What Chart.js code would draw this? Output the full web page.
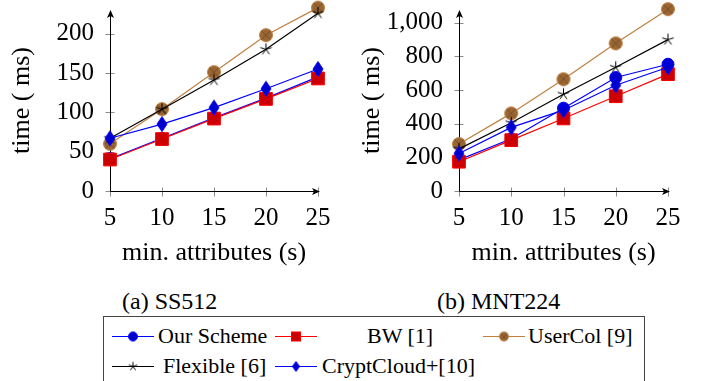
<!DOCTYPE html>
<html>
<head>
<meta charset="utf-8">
<script src="https://cdn.jsdelivr.net/npm/chart.js@4/dist/chart.umd.min.js"></script>
<style>
  body { margin: 0; width: 710px; height: 381px; overflow: hidden; background: #fff; position: relative; font-family: 'Liberation Serif', serif; color: #000; }
  .abs { position: absolute; }
  .cap { position: absolute; font-size: 24px; line-height: 24px; white-space: nowrap; }
  .leg { position: absolute; font-size: 22px; line-height: 22px; white-space: nowrap; }
  #legendBox { position: absolute; left: 103px; top: 316px; width: 542px; height: 90px; border: 1px solid #444; box-sizing: border-box; }
</style>
</head>
<body>
<canvas id="ss512" class="abs" width="355" height="275" style="left:0;top:0"></canvas>
<canvas id="mnt224" class="abs" width="355" height="275" style="left:355px;top:0"></canvas>

<div class="cap" style="left:122px;top:289px">(a) SS512</div>
<div class="cap" style="left:437px;top:289px">(b) MNT224</div>

<div id="legendBox"></div>
<div id="legend"></div>

<script>
// x values: minimum number of attributes
const attrs = [5, 10, 15, 20, 25];
const xTicks = [5, 10, 15, 20, 25];

// SS512 curve, time in ms
const ss512OurScheme = [41, 67, 93, 118, 145];
const ss512BW        = [40, 66, 92, 117, 143];
const ss512UserCol   = [60, 104, 151, 198, 233];
const ss512Flexible  = [67, 104, 141, 180, 226];
const ss512CryptCloud = [67, 85, 106, 130, 155];
const ss512YTicks = [0, 50, 100, 150, 200];

// MNT224 curve, time in ms
const mnt224OurScheme = [185, 310, 492, 674, 753];
const mnt224BW        = [174, 302, 431, 563, 694];
const mnt224UserCol   = [279, 461, 664, 877, 1080];
const mnt224Flexible  = [250, 405, 575, 735, 899];
const mnt224CryptCloud = [223, 378, 480, 628, 735];
const mnt224YTicks = [0, 200, 400, 600, 800, 1000];

const seriesNames = ['Our Scheme', 'BW [1]', 'UserCol [9]', 'Flexible [6]', 'CryptCloud+[10]'];

// ---- marker glyphs (pgfplots-like) ----
function glyph(size, draw) {
  const c = document.createElement('canvas');
  c.width = size; c.height = size;
  const g = c.getContext('2d');
  draw(g, size / 2);
  return c;
}
function otimes(r) {
  return glyph(Math.ceil(2 * r + 3), (g, m) => {
    g.beginPath(); g.arc(m, m, r, 0, 2 * Math.PI);
    g.fillStyle = '#996633'; g.fill();
    g.strokeStyle = '#bf8040'; g.lineWidth = 1; g.stroke();
    const d = r * Math.SQRT1_2;
    g.strokeStyle = '#7a4f26';
    g.beginPath(); g.moveTo(m - d, m - d); g.lineTo(m + d, m + d);
    g.moveTo(m + d, m - d); g.lineTo(m - d, m + d); g.stroke();
  });
}
function star(r) {
  return glyph(Math.ceil(2 * r + 3), (g, m) => {
    g.strokeStyle = '#000'; g.lineWidth = 1;
    g.beginPath();
    for (let k = 0; k < 5; k++) {
      const a = -Math.PI / 2 + k * 2 * Math.PI / 5;
      g.moveTo(m, m); g.lineTo(m + r * Math.cos(a), m + r * Math.sin(a));
    }
    g.stroke();
  });
}
function diamond(w, h) {
  return glyph(Math.ceil(2 * h + 3), (g, m) => {
    g.beginPath();
    g.moveTo(m, m - h); g.lineTo(m + w, m); g.lineTo(m, m + h); g.lineTo(m - w, m); g.closePath();
    g.fillStyle = '#0000cc'; g.fill();
    g.strokeStyle = '#0000ff'; g.lineWidth = 1; g.stroke();
  });
}

const styles = [
  { line: '#0000ff', pointStyle: 'circle', radius: 6, fill: '#0000cc', edge: '#0000ff' },
  { line: '#ff0000', pointStyle: 'rect', radius: 9, fill: '#cc0000', edge: '#ff0000' },
  { line: '#bf8040', pointStyle: otimes(6.5), radius: 7, fill: '#996633', edge: '#bf8040' },
  { line: '#000000', pointStyle: star(6), radius: 7, fill: '#000', edge: '#000' },
  { line: '#0000ff', pointStyle: diamond(5, 7.5), radius: 7, fill: '#0000cc', edge: '#0000ff' }
];

// axis lines with arrow tips and ticks crossing the axes
const arrowAxes = {
  id: 'arrowAxes',
  beforeDatasetsDraw(chart) {
    const { ctx, chartArea: a, scales: { x, y } } = chart;
    ctx.save();
    ctx.lineWidth = 1;
    ctx.strokeStyle = '#8c8c8c';
    const ox = Math.round(a.left) + 0.5, oy = Math.round(a.bottom) + 0.5;
    y.ticks.forEach(t => {
      const py = Math.round(y.getPixelForValue(t.value)) + 0.5;
      ctx.beginPath(); ctx.moveTo(ox - 5, py); ctx.lineTo(ox + 4, py); ctx.stroke();
    });
    x.ticks.forEach(t => {
      const px = Math.round(x.getPixelForValue(t.value)) + 0.5;
      ctx.beginPath(); ctx.moveTo(px, oy - 4); ctx.lineTo(px, oy + 5); ctx.stroke();
    });
    ctx.strokeStyle = '#000'; ctx.fillStyle = '#000';
    const topY = a.top, rightX = a.right + 2;
    ctx.beginPath();
    ctx.moveTo(ox, oy); ctx.lineTo(ox, topY + 2);
    ctx.moveTo(ox, oy); ctx.lineTo(rightX - 2, oy);
    ctx.stroke();
    // arrow heads
    ctx.beginPath();
    ctx.moveTo(ox, topY); ctx.lineTo(ox - 3.5, topY + 8); ctx.lineTo(ox, topY + 6); ctx.lineTo(ox + 3.5, topY + 8); ctx.closePath();
    ctx.fill();
    ctx.beginPath();
    ctx.moveTo(rightX, oy); ctx.lineTo(rightX - 8, oy - 3.5); ctx.lineTo(rightX - 6, oy); ctx.lineTo(rightX - 8, oy + 3.5); ctx.closePath();
    ctx.fill();
    ctx.restore();
  }
};

Chart.defaults.font.family = "'Liberation Serif', serif";
Chart.defaults.color = '#000';

function makeChart(id, values, yTicks, yMax, axisWidth, rightPad, yTitlePad) {
  const datasets = values.map((vals, i) => {
    const s = styles[i];
    return {
      label: seriesNames[i],
      data: vals.map((v, k) => ({ x: attrs[k], y: v })),
      borderColor: s.line,
      borderWidth: 1.2,
      pointStyle: s.pointStyle,
      pointRadius: s.radius,
      pointBackgroundColor: s.fill,
      pointBorderColor: s.edge,
      pointBorderWidth: 1,
      tension: 0,
      clip: false,
      order: 5 - i
    };
  });
  return new Chart(document.getElementById(id), {
    type: 'line',
    data: { datasets },
    options: {
      responsive: false,
      animation: false,
      events: [],
      layout: { padding: { top: 10, right: rightPad, left: 0, bottom: 0 } },
      plugins: { legend: { display: false }, tooltip: { enabled: false } },
      scales: {
        x: {
          type: 'linear', min: 5, max: 25,
          afterBuildTicks: s => { s.ticks = xTicks.map(v => ({ value: v })); },
          afterFit: s => { s.height = 84; s.paddingLeft = 0; s.paddingRight = 0; },
          grid: { display: false, drawTicks: false },
          border: { display: false },
          ticks: { padding: 12, font: { size: 25 } },
          title: { display: true, text: 'min. attributes (s)', font: { size: 26 }, padding: { top: 0, bottom: 6 } }
        },
        y: {
          type: 'linear', min: 0, max: yMax,
          afterBuildTicks: s => { s.ticks = yTicks.map(v => ({ value: v })); },
          afterFit: s => { s.width = axisWidth; s.paddingTop = 0; s.paddingBottom = 0; },
          grid: { display: false, drawTicks: false },
          border: { display: false },
          ticks: { padding: 16, font: { size: 25 }, callback: v => v.toLocaleString('en-US') },
          title: { display: true, text: 'time ( ms)', font: { size: 26 }, padding: { top: yTitlePad, bottom: 0 } }
        }
      }
    },
    plugins: [arrowAxes]
  });
}

makeChart('ss512', [ss512OurScheme, ss512BW, ss512UserCol, ss512Flexible, ss512CryptCloud],
  ss512YTicks, 230, 110, 37, 7);
makeChart('mnt224', [mnt224OurScheme, mnt224BW, mnt224UserCol, mnt224Flexible, mnt224CryptCloud],
  mnt224YTicks, 1075, 104, 42, 2);

// ---- legend ----
const legendItems = [
  { i: 0, lineX: 112, textX: 158, row: 0 },
  { i: 1, lineX: 275, textX: 367, row: 0 },
  { i: 2, lineX: 483, textX: 528, row: 0 },
  { i: 3, lineX: 112, textX: 163, row: 1 },
  { i: 4, lineX: 275, textX: 322, row: 1 }
];
const rowLineY = [336, 366];
const legendSwatches = [
  () => glyph(12, (g, m) => { g.beginPath(); g.arc(m, m, 4.5, 0, 2 * Math.PI); g.fillStyle = '#0000cc'; g.fill(); g.strokeStyle = '#0000ff'; g.stroke(); }),
  () => glyph(12, (g, m) => { g.fillStyle = '#cc0000'; g.fillRect(m - 4.5, m - 4.5, 9, 9); g.strokeStyle = '#ff0000'; g.strokeRect(m - 4.5, m - 4.5, 9, 9); }),
  () => otimes(4.5),
  () => star(4.5),
  () => diamond(3.5, 5)
];
const legendRoot = document.getElementById('legend');
legendItems.forEach(it => {
  const s = styles[it.i];
  const c = document.createElement('canvas');
  c.width = 42; c.height = 16;
  c.className = 'abs';
  c.style.left = it.lineX + 'px';
  c.style.top = (rowLineY[it.row] - 8) + 'px';
  const g = c.getContext('2d');
  g.strokeStyle = s.line; g.lineWidth = 1;
  g.beginPath(); g.moveTo(0, 8.5); g.lineTo(42, 8.5); g.stroke();
  const m = legendSwatches[it.i]();
  g.drawImage(m, 21 - m.width / 2, 8.5 - m.height / 2);
  legendRoot.appendChild(c);
  const t = document.createElement('div');
  t.className = 'leg';
  t.textContent = seriesNames[it.i];
  t.style.left = it.textX + 'px';
  t.style.top = (rowLineY[it.row] - 11) + 'px';
  legendRoot.appendChild(t);
});
</script>
</body>
</html>
